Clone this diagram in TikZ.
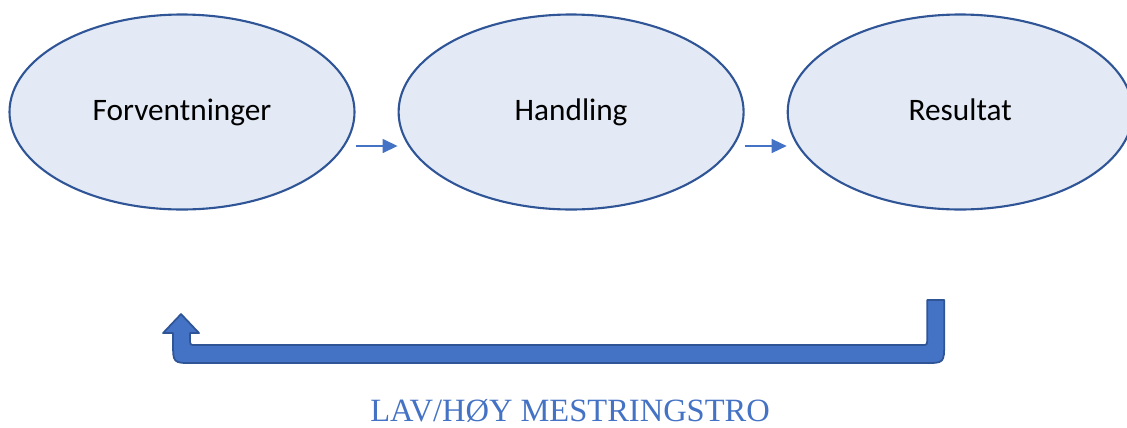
\documentclass[tikz,border=0pt]{standalone}
\usepackage{fontspec}
\setmainfont{Carlito}
\newfontfamily\serifcaps{Liberation Serif}
\usepackage{xcolor}
\usetikzlibrary{positioning,shapes.geometric,arrows.meta}
\definecolor{ovalfill}{HTML}{E3EAF5}
\definecolor{ovalline}{HTML}{2F5597}
\definecolor{arrowblue}{HTML}{4472C4}

\begin{document}
\begin{tikzpicture}[node distance=0.84cm, text centered]
  % Styles
  \tikzstyle{oval}=[ellipse, draw=ovalline, line width=1.2pt, fill=ovalfill, minimum width=6.9cm, minimum height=3.9cm, text height=11pt, text depth=0.8pt, font=\fontsize{17.8}{20}\selectfont]
  \tikzstyle{flow arrow}=[-{Triangle[length=0.3cm, width=0.28cm]}, line width=0.85pt, arrowblue]

  % Frame
  \useasboundingbox (0,0) rectangle (22.54,-8.54);

  % Ovals
  \node[oval] (forv) at (3.64,-2.24) {Forventninger};
  \node[oval, right=of forv] (handl) {Handling};
  \node[oval, right=of handl] (result) {Resultat};

  % Arrows
  \draw[flow arrow] ([yshift=-0.68cm]forv.east) -- ([yshift=-0.68cm]handl.west);
  \draw[flow arrow] ([yshift=-0.68cm]handl.east) -- ([yshift=-0.68cm]result.west);

  % Return arrow
  \begin{scope}[x=0.02cm, y=-0.02cm]
    \filldraw[fill=arrowblue, draw=ovalline, line width=1pt, line join=round]
      (944,300) -- (944,343) .. controls (944,363) .. (924,363)
      -- (193,363) .. controls (173,363) .. (173,343) -- (173,333)
      -- (163,333) -- (181,314) -- (199,333) -- (190,333)
      -- (190,339) .. controls (190,345) .. (196,345)
      -- (921,345) .. controls (927,345) .. (927,339) -- (927,300) -- cycle;
    \node[font=\serifcaps\fontsize{18.5}{22}\selectfont, text=arrowblue, inner sep=0pt, anchor=base] (label) at (570,421) {LAV/HØY MESTRINGSTRO};
  \end{scope}
\end{tikzpicture}
\end{document}
